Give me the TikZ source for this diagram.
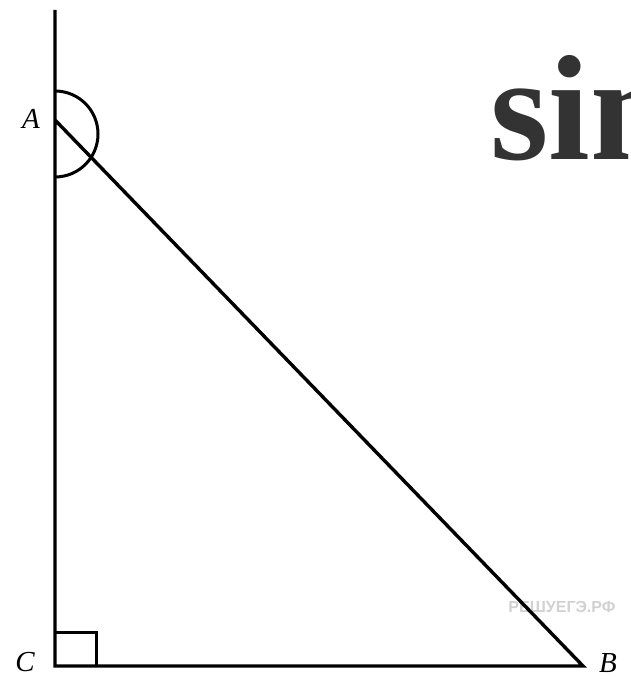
\documentclass[tikz,border=0pt]{standalone}
\usepackage{fontspec}
\setmainfont{Liberation Serif}
\newfontfamily\wmfont{Liberation Sans}
\begin{document}
\begin{tikzpicture}[x=1pt,y=-1pt,
  edge/.style={line width=3.4pt,line join=miter},
  thin/.style={line width=3pt},
  lbl/.style={font=\fontsize{29}{29}\selectfont\itshape,inner sep=0pt}]
\useasboundingbox (0,0) rectangle (630,679);
\clip (0,0) rectangle (630,679);
\coordinate (T) at (55,10);
\coordinate (A) at (55,120);
\coordinate (C) at (55,666);
\coordinate (B) at (583,666);
\coordinate (O) at (55,132.5);
\node[inner sep=0pt,anchor=base west,text=black!80,font=\fontsize{150}{150}\selectfont\bfseries] (sin) at (490,160) {sin};
\node[inner sep=0pt,text=black!18,font=\wmfont\bfseries\fontsize{16}{16}\selectfont] (wm) at (562,607) {РЕШУЕГЭ.РФ};
\draw[edge] (T) -- (C) -- (B) -- (A);
\draw[thin] ([yshift=-44.5pt]O) arc[start angle=90,end angle=-90,radius=43];
\draw[thin] ([yshift=34pt]C) -| ([xshift=41pt]C);
\node[lbl] (la) at (31,119) {A};
\node[lbl] (lc) at (25,662) {C};
\node[lbl] (lb) at (608,663) {B};
\end{tikzpicture}
\end{document}
